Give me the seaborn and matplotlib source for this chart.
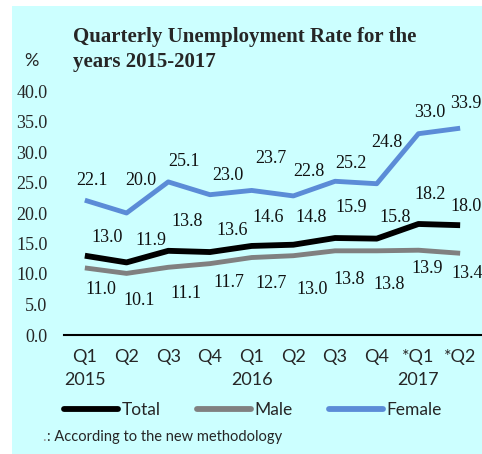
import numpy as np
import pandas as pd
import matplotlib
matplotlib.use("Agg")
import matplotlib.pyplot as plt
from matplotlib.patches import Rectangle
from matplotlib.lines import Line2D
import seaborn as sns

# data
quarters = ["Q1\n2015", "Q2", "Q3", "Q4", "Q1\n2016", "Q2", "Q3", "Q4", "*Q1\n2017", "*Q2"]
total = [13.0, 11.9, 13.8, 13.6, 14.6, 14.8, 15.9, 15.8, 18.2, 18.0]
male = [11.0, 10.1, 11.1, 11.7, 12.7, 13.0, 13.8, 13.8, 13.9, 13.4]
female = [22.1, 20.0, 25.1, 23.0, 23.7, 22.8, 25.2, 24.8, 33.0, 33.9]
series_names = ["Total", "Male", "Female"]

# label placement (pixel offsets), style only
total_dx = [22, 24, 19, 22, 17, 18, 16, 18, 12, 6]
total_dy = [18, 22, 29, 22, 28, 27, 31, 21, 29, 19]
male_dx = [16, 13, 18, 19, 19, 19, 14, 12, 9, 7]
male_dy = [-22, -27, -26, -19, -26, -34, -29, -34, -18, -20]
female_dx = [7, 14, 16, 18, 19, 16, 16, 10, 11, 6]
female_dy = [20, 33, 20, 19, 32, 24, 18, 41, 21, 25]
colors = {"Total": "#000000", "Male": "#808080", "Female": "#5B8CD7"}
widths = {"Total": 4.2, "Male": 3.5, "Female": 3.5}

sns.set_style("white")
plt.rcParams["font.family"] = ["Liberation Serif", "DejaVu Serif"]

df = pd.DataFrame({
    "pos": list(range(len(quarters))) * 3,
    "rate": total + male + female,
    "series": [s for s in series_names for _ in quarters],
})

fig = plt.figure(figsize=(4.82, 4.54), dpi=100)
fig.patches.append(Rectangle((12 / 482, 0), 1 - 12 / 482, 1 - 6 / 454,
                             transform=fig.transFigure, facecolor="#CCFFFF",
                             edgecolor="none", zorder=-10))
ax = fig.add_axes([64 / 482, 119 / 454, 417 / 482, 244 / 454])
ax.set_facecolor("none")

for name in series_names:
    sub = df[df["series"] == name]
    sns.lineplot(data=sub, x="pos", y="rate", color=colors[name],
                 linewidth=widths[name], ax=ax, legend=False,
                 solid_capstyle="butt")

offsets = {"Total": (total_dx, total_dy), "Male": (male_dx, male_dy),
           "Female": (female_dx, female_dy)}
for name in series_names:
    sub = df[df["series"] == name].reset_index(drop=True)
    dxs, dys = offsets[name]
    for i, row in sub.iterrows():
        ax.annotate(f"{row['rate']:.1f}", (row["pos"], row["rate"]),
                    xytext=(dxs[i] * 0.72, dys[i] * 0.72),
                    textcoords="offset points", ha="center", va="center",
                    fontsize=13, color="#111111", annotation_clip=False)

ax.set_xlim(-0.5, len(quarters) - 0.5)
ax.set_ylim(0, 40)
ax.set_yticks(np.arange(0, 41, 5))
ax.set_yticklabels([f"{v:.1f}" for v in np.arange(0, 41, 5)], fontsize=13)
ax.set_xticks(range(len(quarters)))
ax.set_xticklabels(quarters, fontsize=13, family=["Lato", "DejaVu Sans"],
                   linespacing=1.55)
ax.set_xticks(np.arange(-0.5, len(quarters), 1), minor=True)
ax.tick_params(axis="x", which="major", length=0, pad=10)
ax.tick_params(axis="x", which="minor", length=4, width=1.3, color="black",
               direction="out")
ax.tick_params(axis="y", length=0, pad=12)
ax.set_xlabel("")
ax.set_ylabel("")
for s in ["left", "top", "right"]:
    ax.spines[s].set_visible(False)
ax.spines["bottom"].set_color("black")
ax.spines["bottom"].set_linewidth(1.5)

fig.text(73 / 482, 1 - 27 / 454, "Quarterly Unemployment Rate for the\nyears 2015-2017",
         ha="left", va="top", fontsize=15, fontweight="bold", linespacing=1.3)
fig.text(24 / 482, 1 - 61 / 454, "%", ha="left", va="center", fontsize=13,
         family=["Lato", "DejaVu Sans"])

handles = [Line2D([], [], color=colors[n], linewidth=4.2, solid_capstyle="round")
           for n in series_names]
fig.legend(handles, series_names, loc="center", bbox_to_anchor=(0.525, 1 - 410 / 454),
           ncol=3, frameon=False, handlelength=3.1, handletextpad=0.2,
           columnspacing=2.1, prop={"family": ["Lato", "DejaVu Sans"], "size": 12.5})

fig.text(42 / 482, 1 - 437 / 454, ".", ha="left", va="center", fontsize=11,
         color="#999999", family=["Lato", "DejaVu Sans"])
fig.text(47 / 482, 1 - 437 / 454, ": According to the new methodology", ha="left",
         va="center", fontsize=10.5, family=["Lato", "DejaVu Sans"])

fig.savefig("out.png", dpi=100)
